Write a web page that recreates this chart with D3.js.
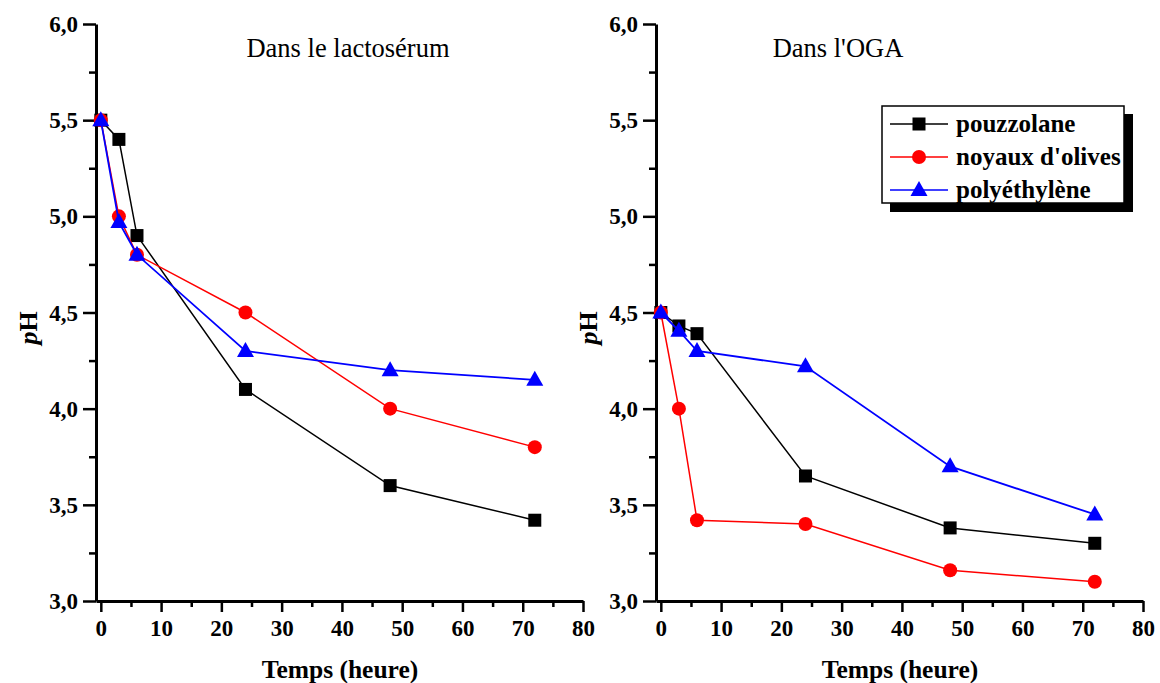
<!DOCTYPE html>
<html>
<head>
<meta charset="utf-8">
<script src="https://cdn.jsdelivr.net/npm/d3@7"></script>
<style>
  html, body { margin: 0; padding: 0; background: #fff; }
  svg { display: block; font-family: "Liberation Serif", "Times New Roman", serif; }
</style>
</head>
<body>
<svg id="chart" width="1160" height="683"></svg>
<script>
// Sampling times (hours)
const times = [0, 3, 6, 24, 48, 72];

// Series names and styles
const seriesNames = ["pouzzolane", "noyaux d'olives", "polyéthylène"];
const seriesColors = ["#000000", "#ff0000", "#0000ff"];
const seriesSymbols = ["square", "circle", "triangle"];

// pH in lactoserum
const lactoPouzzolane = [5.5, 5.4, 4.9, 4.1, 3.6, 3.42];
const lactoNoyaux = [5.5, 5.0, 4.8, 4.5, 4.0, 3.8];
const lactoPolyethylene = [5.5, 4.97, 4.8, 4.3, 4.2, 4.15];

// pH in OGA
const ogaPouzzolane = [4.5, 4.43, 4.39, 3.65, 3.38, 3.3];
const ogaNoyaux = [4.5, 4.0, 3.42, 3.4, 3.16, 3.1];
const ogaPolyethylene = [4.5, 4.405, 4.3, 4.22, 3.7, 3.45];

// Axis ticks
const xTicks = [0, 10, 20, 30, 40, 50, 60, 70, 80];
const xMinorTicks = [5, 15, 25, 35, 45, 55, 65, 75];
const yTicks = [3.0, 3.5, 4.0, 4.5, 5.0, 5.5, 6.0];
const yMinorTicks = [3.25, 3.75, 4.25, 4.75, 5.25, 5.75];

const panels = [
  { title: "Dans le lactosérum", offset: 0, titleX: 348,
    series: [lactoPouzzolane, lactoNoyaux, lactoPolyethylene], legend: false },
  { title: "Dans l'OGA", offset: 560, titleX: 838,
    series: [ogaPouzzolane, ogaNoyaux, ogaPolyethylene], legend: true }
];

const svg = d3.select("#chart");
const fmt = v => d3.format(".1f")(v).replace(".", ",");

function drawSymbol(g, type, color, x, y) {
  if (type === "square") {
    g.append("rect").attr("x", x - 6.5).attr("y", y - 6.5)
      .attr("width", 13).attr("height", 13).attr("fill", color);
  } else if (type === "circle") {
    g.append("circle").attr("cx", x).attr("cy", y).attr("r", 7).attr("fill", color);
  } else {
    g.append("path")
      .attr("d", `M${x},${y - 9}L${x + 8.5},${y + 6}L${x - 8.5},${y + 6}Z`)
      .attr("fill", color);
  }
}

panels.forEach(p => {
  const g = svg.append("g").attr("transform", `translate(${p.offset},0)`);
  const x = d3.scaleLinear().domain([-0.8, 80]).range([96, 583]);
  const y = d3.scaleLinear().domain([3, 6]).range([601, 24]);

  // Minor ticks
  g.append("g").attr("transform", "translate(0,601)")
    .call(d3.axisBottom(x).tickValues(xMinorTicks).tickSize(6).tickFormat(""))
    .call(a => a.select(".domain").remove());
  g.append("g").attr("transform", "translate(96,0)")
    .call(d3.axisLeft(y).tickValues(yMinorTicks).tickSize(7).tickFormat(""))
    .call(a => a.select(".domain").remove());

  // Major ticks and labels
  const xa = g.append("g").attr("transform", "translate(0,601)")
    .call(d3.axisBottom(x).tickValues(xTicks).tickSize(11).tickPadding(8).tickSizeOuter(0));
  const ya = g.append("g").attr("transform", "translate(96,0)")
    .call(d3.axisLeft(y).tickValues(yTicks).tickSize(13).tickPadding(5)
      .tickSizeOuter(0).tickFormat(fmt));

  [xa, ya].forEach(a => {
    a.select(".domain").attr("stroke-width", 3).attr("stroke", "#000");
    a.selectAll(".tick text").attr("font-family", "Liberation Serif")
      .attr("font-size", 23).attr("font-weight", "bold").attr("fill", "#000");
  });
  g.selectAll(".tick line").attr("stroke", "#000").attr("stroke-width", 2.5);
  ya.selectAll(".tick text").attr("dy", "0.33em");

  // Panel title
  g.append("text").attr("x", p.titleX - p.offset).attr("y", 57)
    .attr("text-anchor", "middle").attr("font-size", 26.5).text(p.title);

  // Axis titles
  g.append("text").attr("x", 340).attr("y", 678).attr("text-anchor", "middle")
    .attr("font-size", 25.5).attr("font-weight", "bold").text("Temps (heure)");
  const yl = g.append("text")
    .attr("transform", "translate(37,328) rotate(-90)")
    .attr("text-anchor", "middle").attr("font-size", 26).attr("font-weight", "bold");
  yl.append("tspan").attr("font-style", "italic").text("p");
  yl.append("tspan").text("H");

  // Series
  const line = d3.line().x((d, i) => x(times[i])).y(d => y(d));
  p.series.forEach((vals, si) => {
    const sg = g.append("g");
    sg.append("path").datum(vals).attr("d", line).attr("fill", "none")
      .attr("stroke", seriesColors[si]).attr("stroke-width", si === 2 ? 1.8 : 1.5);
    vals.forEach((v, i) => drawSymbol(sg, seriesSymbols[si], seriesColors[si], x(times[i]), y(v)));
  });

  // Legend
  if (p.legend) {
    const lg = svg.append("g");
    lg.append("rect").attr("x", 890).attr("y", 114).attr("width", 243).attr("height", 98)
      .attr("fill", "#000");
    lg.append("rect").attr("x", 882).attr("y", 106).attr("width", 242).attr("height", 97)
      .attr("fill", "#fff").attr("stroke", "#000").attr("stroke-width", 1.5);
    seriesNames.forEach((name, si) => {
      const cy = 124 + si * 33;
      lg.append("line").attr("x1", 890).attr("x2", 948).attr("y1", cy).attr("y2", cy)
        .attr("stroke", seriesColors[si]).attr("stroke-width", 1.5);
      drawSymbol(lg, seriesSymbols[si], seriesColors[si], 919, cy);
      lg.append("text").attr("x", 956).attr("y", cy + 8).attr("font-size", 25)
        .attr("font-weight", "bold").text(name);
    });
  }
});
</script>
</body>
</html>
